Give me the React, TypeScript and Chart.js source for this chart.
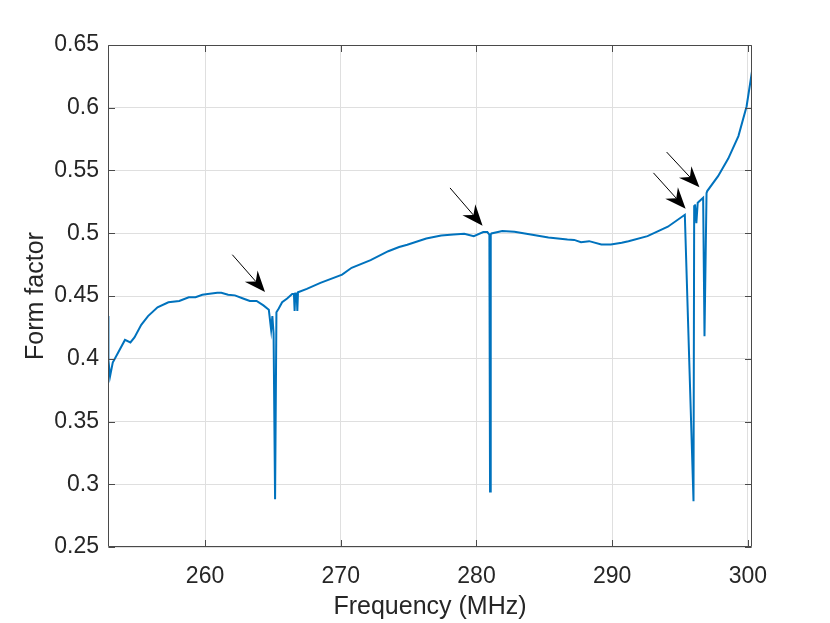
import React, { useEffect, useRef } from "react";
import { Chart, registerables } from "chart.js";

Chart.register(...registerables);

const freqMHz = [
  252.85, 252.88, 253.0, 253.2, 253.6, 254.1, 254.5, 254.8, 255.3, 255.8,
  256.5, 257.3, 258.1, 258.8, 259.3, 259.8, 260.2, 260.9, 261.2, 261.7,
  262.2, 262.8, 263.3, 263.8, 264.3, 264.7, 264.87, 264.96, 265.05, 265.16,
  265.26, 265.43, 265.68, 266.05, 266.42, 266.55, 266.6, 266.65, 266.75, 266.8,
  266.85, 267.5, 268.5, 270.1, 270.8, 272.2, 273.5, 274.3, 274.9, 276.3,
  277.4, 278.3, 279.1, 279.8, 280.5, 280.8, 280.95, 281.0, 281.05, 281.1,
  281.9, 282.8, 284.0, 285.3, 286.7, 287.2, 287.7, 288.3, 289.2, 289.9,
  290.7, 291.2, 292.6, 294.1, 295.35, 295.99, 296.04, 296.1, 296.2, 296.3,
  296.7, 296.8, 296.95, 297.0, 297.8, 298.55, 299.3, 299.9, 300.3,
];
const formFactor = [
  0.434, 0.399, 0.386, 0.397, 0.405, 0.415, 0.413, 0.417, 0.427, 0.434,
  0.441, 0.445, 0.446, 0.449, 0.449, 0.451, 0.4515, 0.4525, 0.4525, 0.451,
  0.4505, 0.448, 0.446, 0.446, 0.4425, 0.439, 0.423, 0.434, 0.42, 0.288,
  0.437, 0.44, 0.445, 0.448, 0.4515, 0.4515, 0.438, 0.452, 0.452, 0.438,
  0.453, 0.4557, 0.4605, 0.467, 0.4725, 0.4786, 0.4857, 0.489, 0.4908, 0.4958,
  0.4982, 0.499, 0.4996, 0.4977, 0.5009, 0.5009, 0.499, 0.2943, 0.499, 0.4998,
  0.5017, 0.5012, 0.499, 0.4967, 0.495, 0.4947, 0.4929, 0.4937, 0.491, 0.491,
  0.4924, 0.4937, 0.4977, 0.5052, 0.5147, 0.2864, 0.5216, 0.523, 0.508, 0.5243,
  0.5283, 0.418, 0.532, 0.5336, 0.5455, 0.5595, 0.5774, 0.601, 0.629,
];

const xTicks = [260, 270, 280, 290, 300];
const yTicks = [0.25, 0.3, 0.35, 0.4, 0.45, 0.5, 0.55, 0.6, 0.65];

// arrow annotations, tail -> tip, in data units
const arrowTailFreq = [262.01, 278.05, 293.04, 294.01];
const arrowTailValue = [0.4829, 0.5361, 0.5481, 0.5647];
const arrowTipFreq = [264.42, 280.45, 295.41, 296.43];
const arrowTipValue = [0.4532, 0.506, 0.5196, 0.5366];

const FONT = "'Liberation Sans', Arial, Helvetica, sans-serif";
const TEXT = "#262626";

const boxPlugin = {
  id: "matlabBox",
  afterDatasetsDraw(chart: any) {
    const { ctx, chartArea: a, scales } = chart;
    const sx = scales.x;
    const sy = scales.y;
    const L = Math.round(a.left) + 0.5;
    const R = Math.round(a.right) - 0.5;
    const T = Math.round(a.top) + 0.5;
    const B = Math.round(a.bottom) - 0.5;
    const tick = 6.5;
    ctx.save();
    ctx.strokeStyle = "#4a4a4a";
    ctx.lineWidth = 1;
    ctx.beginPath();
    ctx.rect(L, T, R - L, B - T);
    xTicks.forEach((v) => {
      const px = Math.round(sx.getPixelForValue(v)) + 0.5;
      ctx.moveTo(px, B);
      ctx.lineTo(px, B - tick);
      ctx.moveTo(px, T);
      ctx.lineTo(px, T + tick);
    });
    yTicks.forEach((v) => {
      const py = Math.round(sy.getPixelForValue(v)) + 0.5;
      ctx.moveTo(L, py);
      ctx.lineTo(L + tick, py);
      ctx.moveTo(R, py);
      ctx.lineTo(R - tick, py);
    });
    ctx.stroke();

    // arrows
    ctx.strokeStyle = "#000";
    ctx.fillStyle = "#000";
    for (let i = 0; i < arrowTipFreq.length; i++) {
      const x0 = sx.getPixelForValue(arrowTailFreq[i]);
      const y0 = sy.getPixelForValue(arrowTailValue[i]);
      const x1 = sx.getPixelForValue(arrowTipFreq[i]);
      const y1 = sy.getPixelForValue(arrowTipValue[i]);
      const ang = Math.atan2(y1 - y0, x1 - x0);
      const headLen = 21;
      const halfW = 8.5;
      const notch = 7;
      const ux = Math.cos(ang);
      const uy = Math.sin(ang);
      const nx = -uy;
      const ny = ux;
      ctx.beginPath();
      ctx.moveTo(x0, y0);
      ctx.lineTo(x1 - ux * (headLen - notch), y1 - uy * (headLen - notch));
      ctx.lineWidth = 1;
      ctx.stroke();
      ctx.beginPath();
      ctx.moveTo(x1, y1);
      ctx.lineTo(x1 - ux * headLen + nx * halfW, y1 - uy * headLen + ny * halfW);
      ctx.lineTo(x1 - ux * (headLen - notch), y1 - uy * (headLen - notch));
      ctx.lineTo(x1 - ux * headLen - nx * halfW, y1 - uy * headLen - ny * halfW);
      ctx.closePath();
      ctx.fill();
    }
    ctx.restore();
  },
};

const FormFactorChart: React.FC = () => {
  const canvasRef = useRef<HTMLCanvasElement>(null);

  useEffect(() => {
    if (!canvasRef.current) return;
    const chart = new Chart(canvasRef.current, {
      type: "line",
      data: {
        datasets: [
          {
            data: freqMHz.map((f, i) => ({ x: f, y: formFactor[i] })),
            borderColor: "#0072BD",
            borderWidth: 2,
            pointRadius: 0,
            tension: 0,
            fill: false,
          },
        ],
      },
      options: {
        animation: false,
        responsive: false,
        maintainAspectRatio: false,
        layout: { padding: { top: 45, right: 78, bottom: 0, left: 0 } },
        plugins: {
          legend: { display: false },
          tooltip: { enabled: false },
        },
        scales: {
          x: {
            type: "linear",
            min: 252.85,
            max: 300.3,
            afterBuildTicks: (s: any) => {
              s.ticks = xTicks.map((v) => ({ value: v }));
            },
            afterFit: (s: any) => {
              s.height = 76;
            },
            grid: { color: "#dfdfdf", lineWidth: 1, drawTicks: false },
            border: { display: false },
            ticks: {
              padding: 16,
              color: TEXT,
              maxRotation: 0,
              autoSkip: false,
              font: { family: FONT, size: 23 },
            },
            title: {
              display: true,
              text: "Frequency (MHz)",
              color: TEXT,
              font: { family: FONT, size: 25 },
              padding: { top: 0, bottom: 1 },
            },
          },
          y: {
            type: "linear",
            min: 0.25,
            max: 0.65,
            afterBuildTicks: (s: any) => {
              s.ticks = yTicks.map((v) => ({ value: v }));
            },
            afterFit: (s: any) => {
              s.width = 108;
            },
            grid: { color: "#dfdfdf", lineWidth: 1, drawTicks: false },
            border: { display: false },
            ticks: {
              padding: 9,
              color: TEXT,
              autoSkip: false,
              font: { family: FONT, size: 23 },
              callback: (v: any) => String(Number(Number(v).toFixed(2))),
            },
            title: {
              display: true,
              text: "Form factor",
              color: TEXT,
              font: { family: FONT, size: 25 },
              padding: { top: 21, bottom: 0 },
            },
          },
        },
      },
      plugins: [boxPlugin],
    });
    return () => chart.destroy();
  }, []);

  return <canvas ref={canvasRef} width={830} height={623} style={{ display: "block" }} />;
};

export default function App() {
  return (
    <div style={{ position: "fixed", left: 0, top: 0, width: 830, height: 623, background: "#fff" }}>
      <FormFactorChart />
    </div>
  );
}
